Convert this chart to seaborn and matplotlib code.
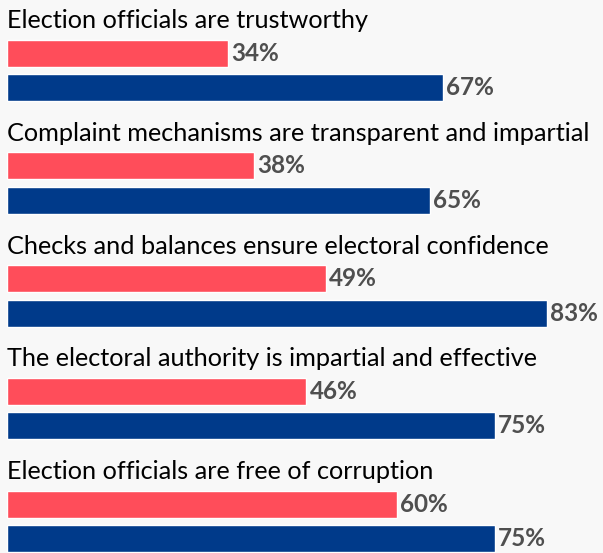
import pandas as pd
import matplotlib.pyplot as plt
import seaborn as sns

# statements and the two series of percentages (red = first, blue = second)
statements = [
    "Election officials are trustworthy",
    "Complaint mechanisms are transparent and impartial",
    "Checks and balances ensure electoral confidence",
    "The electoral authority is impartial and effective",
    "Election officials are free of corruption",
]
series_names = ["Series 1", "Series 2"]
values_red = [34, 38, 49, 46, 60]
values_blue = [67, 65, 83, 75, 75]

RED = "#ff4d5a"
BLUE = "#003a8a"
BG = "#f8f8f8"

df = pd.DataFrame({
    "statement": statements * 2,
    "series": [series_names[0]] * len(statements) + [series_names[1]] * len(statements),
    "pct": values_red + values_blue,
})

sns.set_theme(style="white")
plt.rcParams["font.family"] = ["Lato", "DejaVu Sans"]

fig = plt.figure(figsize=(6.03, 5.53), dpi=100, facecolor=BG)
ax = fig.add_axes([0, 0, 1, 1])
ax.set_facecolor(BG)

sns.barplot(data=df, x="pct", y="statement", hue="series", orient="h",
            hue_order=series_names, palette=[RED, BLUE], width=0.613, gap=0.216,
            saturation=1, legend=False, errorbar=None, ax=ax)

for cont in ax.containers:
    ax.bar_label(cont, labels=[f"{v:g}%" for v in cont.datavalues], padding=2.5,
                 fontsize=17.5, fontweight="bold", color="#4f4f4f")

for i, s in enumerate(statements):
    ax.text(0, i - 0.375, s, fontsize=18.2, color="#000000", va="baseline", ha="left")

ax.set_xlim(-7 / 6.5, (603 - 7) / 6.5)
ax.set_ylim(4.280, -0.624)
ax.set_axis_off()

fig.savefig("out.png", dpi=100, facecolor=BG)
